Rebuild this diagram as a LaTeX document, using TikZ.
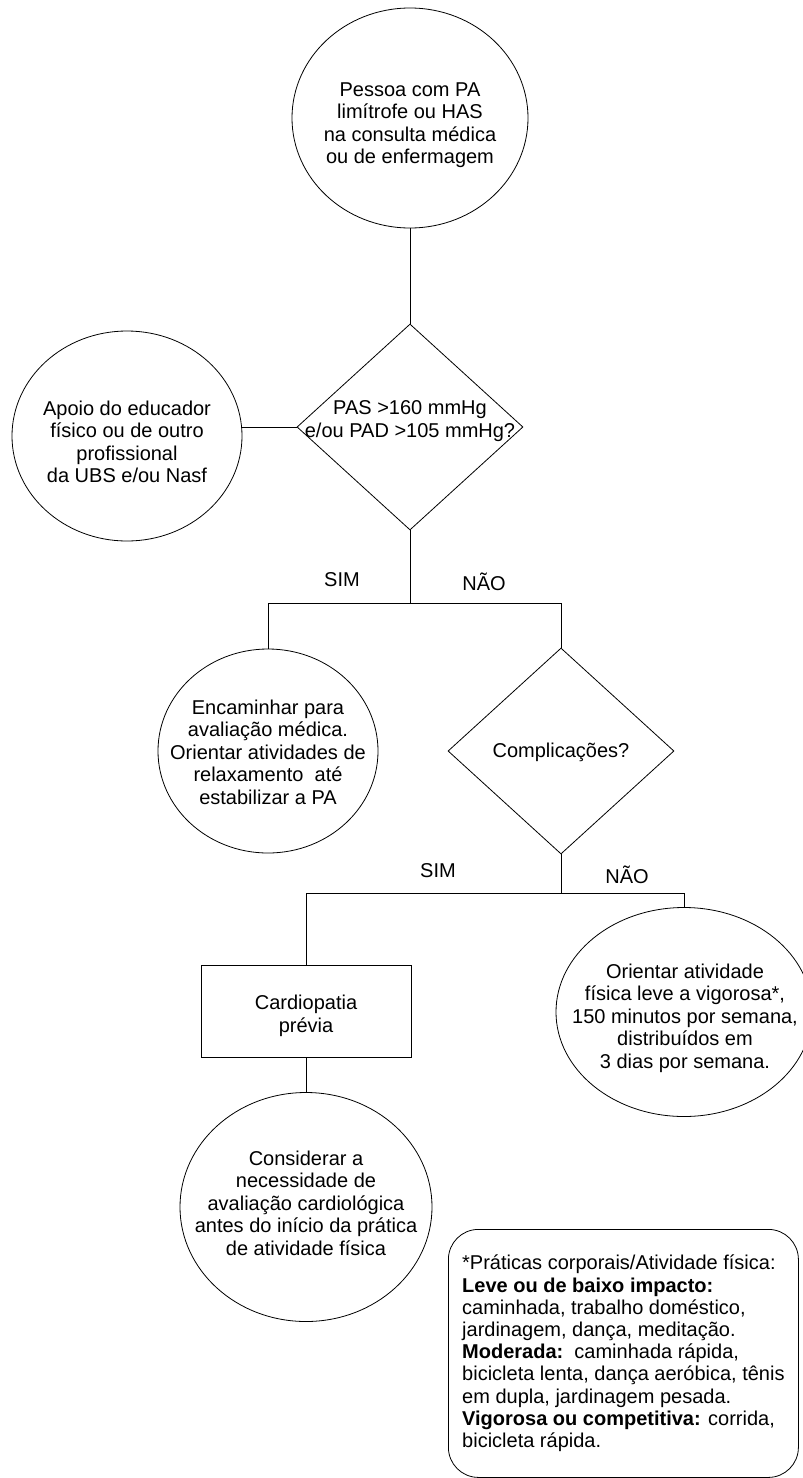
\documentclass[tikz,border=0pt]{standalone}
\usepackage{fontspec}
\setmainfont{Liberation Sans}
\usetikzlibrary{shapes,positioning,calc}

\begin{document}
\begin{tikzpicture}[x=1pt, y=-1pt, line width=0.8pt,
    bolha/.style={ellipse, draw, inner sep=0pt},
    decisao/.style={diamond, draw, inner sep=0pt, minimum width=226pt, minimum height=206pt},
    texto/.style={align=center, inner sep=0pt, font=\fontsize{20}{22.5}\selectfont},
    caixa/.style={rectangle, draw, inner sep=0pt, minimum width=210pt, minimum height=92pt},
    nota/.style={rectangle, draw, rounded corners=30pt, align=left, inner sep=0pt,
        minimum width=350pt, minimum height=248pt, font=\fontsize{20}{22.2}\selectfont}]
    \useasboundingbox (0,0) rectangle (803,1478);

    \node [bolha, minimum width=236pt, minimum height=220pt] (pessoa) at (410,118) {};
    \node [texto] (pessoa-txt) at (410,125) {Pessoa com PA\\ limítrofe ou HAS\\ na consulta médica\\ ou de enfermagem};

    \node [decisao] (pas) at (410,427) {};
    \node [texto] (pas-txt) at (410,421) {PAS >160 mmHg\\ e/ou PAD >105 mmHg?};

    \node [bolha, minimum width=230pt, minimum height=210pt] (apoio) at (127,436) {};
    \node [texto] (apoio-txt) at (127,442) {Apoio do educador\\ físico ou de outro\\ profissional\\ da UBS e/ou Nasf};

    \node [bolha, minimum width=220pt, minimum height=204pt] (encaminhar) at (268,751) {};
    \node [texto] (encaminhar-txt) at (268,752) {Encaminhar para\\ avaliação médica.\\ Orientar atividades de\\ relaxamento\ \ até\\ estabilizar a PA};

    \node [decisao] (complic) at (561,751) {};
    \node [texto] (complic-txt) at (561,752) {Complicações?};

    \node [caixa] (cardio) at (306,1011) {};
    \node [texto] (cardio-txt) at (306,1016) {Cardiopatia\\ prévia};

    \node [bolha, minimum width=256pt, minimum height=209pt] (orientar) at (684,1012) {};
    \node [texto] (orientar-txt) at (685,1018) {Orientar atividade\\ física leve a vigorosa*,\\ 150 minutos por semana,\\ distribuídos em\\ 3 dias por semana.};

    \node [bolha, minimum width=252pt, minimum height=229pt] (considerar) at (306,1207) {};
    \node [texto] (considerar-txt) at (306,1203) {Considerar a\\ necessidade de\\ avaliação cardiológica\\ antes do início da prática\\ de atividade física};

    \node [nota, anchor=north west] (praticas) at (448,1229) {*Práticas corporais/Atividade física:\\
        \textbf{Leve ou de baixo impacto:}\\
        caminhada, trabalho doméstico,\\
        jardinagem, dança, meditação.\\
        \textbf{Moderada:}\ \ caminhada rápida,\\
        bicicleta lenta, dança aeróbica, tênis\\
        em dupla, jardinagem pesada.\\
        \textbf{Vigorosa ou competitiva:} corrida,\\
        bicicleta rápida.};

    \node [texto] (sim1) at (342,580) {SIM};
    \node [texto] (nao1) at (484,582) {NÃO};
    \node [texto] (sim2) at (438,871) {SIM};
    \node [texto] (nao2) at (627,875) {NÃO};

    \coordinate (j1) at (410,603);
    \coordinate (j2) at (561,893);

    \draw (pessoa.south) -- (pas.north);
    \draw (pas.west) -- (pas.west -| apoio.east);
    \draw (pas.south) -- (j1) -| (encaminhar.north);
    \draw (j1) -| (complic.north);
    \draw (complic.south) -- (j2) -| (cardio.north);
    \draw (j2) -| (orientar.north);
    \draw (cardio.south) -- (considerar.north);
\end{tikzpicture}
\end{document}
